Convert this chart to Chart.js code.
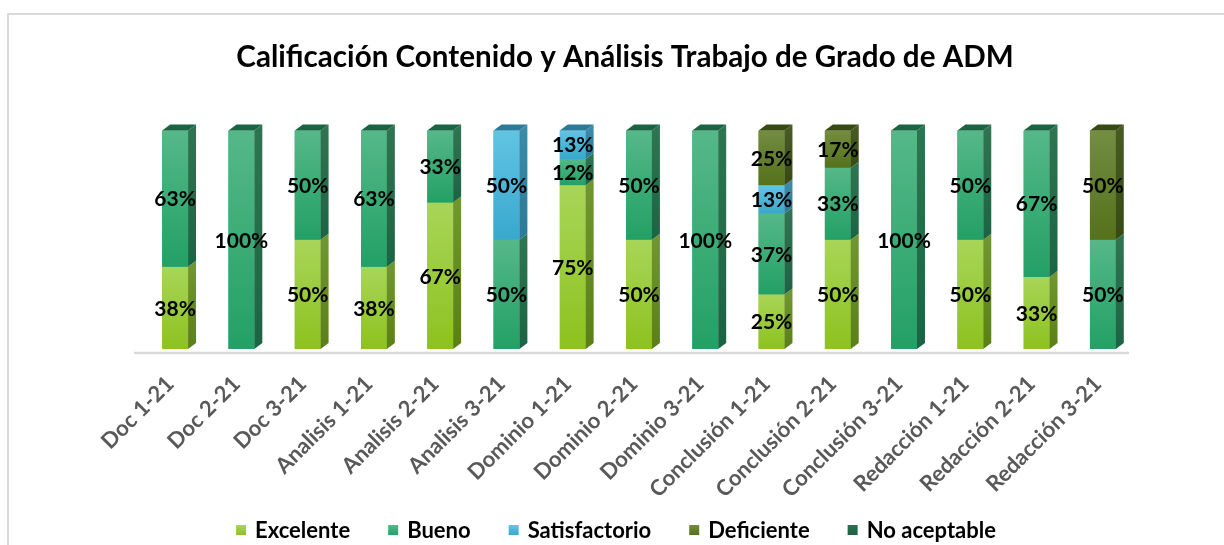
<!DOCTYPE html>
<html>
<head>
<meta charset="utf-8">
<script src="https://cdn.jsdelivr.net/npm/chart.js@4.4.0/dist/chart.umd.min.js"></script>
<style>
    html, body { margin: 0; padding: 0; background: #fff; }
    #wrap { position: relative; width: 1224px; height: 545px; overflow: hidden; }
    #frame { position: absolute; left: 7px; top: 13px; right: -10px; bottom: -10px;
             border-left: 2px solid #d9d9d9; border-top: 2px solid #d9d9d9; }
    canvas { position: absolute; left: 0; top: 0; }
</style>
</head>
<body>
<div id="wrap">
    <div id="frame"></div>
    <canvas id="chart" width="1224" height="545"></canvas>
</div>
<script>
const categories = ['Doc 1-21', 'Doc 2-21', 'Doc 3-21', 'Analisis 1-21', 'Analisis 2-21', 'Analisis 3-21',
    'Dominio 1-21', 'Dominio 2-21', 'Dominio 3-21', 'Conclusión 1-21', 'Conclusión 2-21', 'Conclusión 3-21',
    'Redacción 1-21', 'Redacción 2-21', 'Redacción 3-21'];

// percentages as printed on the bars
const excelente     = [38, 0, 50, 38, 67, 0, 75, 50, 0, 25, 50, 0, 50, 33, 0];
const bueno         = [63, 100, 50, 63, 33, 50, 12, 50, 100, 37, 33, 100, 50, 67, 50];
const satisfactorio = [0, 0, 0, 0, 0, 50, 13, 0, 0, 13, 0, 0, 0, 0, 0];
const deficiente    = [0, 0, 0, 0, 0, 0, 0, 0, 0, 25, 17, 0, 0, 0, 50];
const noAceptable   = [0, 0, 0, 0, 0, 0, 0, 0, 0, 0, 0, 0, 0, 0, 0];

// front top, front bottom, side top, side bottom
const shades = {
    'Excelente':     ['#a8d558', '#8dc21f', '#6f9630', '#5a7f17'],
    'Bueno':         ['#55b888', '#23a066', '#2f7450', '#1b6443'],
    'Satisfactorio': ['#62c4e3', '#38a8cd', '#3a8aa8', '#2d7a98'],
    'Deficiente':    ['#738d42', '#55711a', '#465a22', '#364a12'],
    'No aceptable':  ['#2a7350', '#1d6140', '#174d33', '#123f2a']
};

const series = [
    ['Excelente', excelente],
    ['Bueno', bueno],
    ['Satisfactorio', satisfactorio],
    ['Deficiente', deficiente],
    ['No aceptable', noAceptable]
];

// 100% stacked: each column scaled to its own total
const totals = categories.map((c, j) => series.reduce((s, d) => s + d[1][j], 0));

const datasets = series.map(([name, vals]) => ({
    label: name,
    raw: vals,
    data: vals.map((v, j) => v / totals[j] * 100),
    backgroundColor: shades[name][1],
    borderWidth: 0,
    categoryPercentage: 1,
    barPercentage: 0.39
}));

const DX = 8, DY = 6;

const bars3d = {
    id: 'bars3d',
    afterDatasetsDraw(chart) {
        const ctx = chart.ctx;
        const area = chart.chartArea;

        // floor line
        ctx.save();
        ctx.strokeStyle = '#d9d9d9';
        ctx.lineWidth = 2.5;
        ctx.beginPath();
        ctx.moveTo(area.left - 8, area.bottom + 4);
        ctx.lineTo(area.right - 7, area.bottom + 4);
        ctx.stroke();

        const tops = {};
        chart.data.datasets.forEach((ds, i) => {
            const meta = chart.getDatasetMeta(i);
            const sh = shades[ds.label];
            meta.data.forEach((bar, j) => {
                if (!ds.data[j]) return;
                const l = bar.x - bar.width / 2, r = bar.x + bar.width / 2;
                const t = Math.min(bar.y, bar.base), b = Math.max(bar.y, bar.base);

                let g = ctx.createLinearGradient(0, t, 0, b);
                g.addColorStop(0, sh[0]);
                g.addColorStop(1, sh[1]);
                ctx.fillStyle = g;
                ctx.fillRect(l, t, r - l, b - t);

                g = ctx.createLinearGradient(0, t, 0, b);
                g.addColorStop(0, sh[2]);
                g.addColorStop(1, sh[3]);
                ctx.fillStyle = g;
                ctx.beginPath();
                ctx.moveTo(r, t);
                ctx.lineTo(r + DX, t - DY);
                ctx.lineTo(r + DX, b - DY);
                ctx.lineTo(r, b);
                ctx.closePath();
                ctx.fill();

                tops[j] = {l, r, t, color: sh[3]};
            });
        });

        Object.values(tops).forEach(tp => {
            ctx.fillStyle = tp.color;
            ctx.beginPath();
            ctx.moveTo(tp.l, tp.t);
            ctx.lineTo(tp.l + DX, tp.t - DY);
            ctx.lineTo(tp.r + DX, tp.t - DY);
            ctx.lineTo(tp.r, tp.t);
            ctx.closePath();
            ctx.fill();
        });

        // value labels
        ctx.fillStyle = '#000';
        ctx.font = 'bold 21px Lato';
        ctx.textAlign = 'center';
        ctx.textBaseline = 'middle';
        chart.data.datasets.forEach((ds, i) => {
            const meta = chart.getDatasetMeta(i);
            meta.data.forEach((bar, j) => {
                if (!ds.raw[j]) return;
                ctx.fillText(ds.raw[j] + '%', bar.x, (bar.y + bar.base) / 2 + 1);
            });
        });
        ctx.restore();
    }
};

// legend row at the bottom (Chart.js legend ties item gap to its vertical padding)
const bottomLegend = {
    id: 'bottomLegend',
    afterDraw(chart) {
        const ctx = chart.ctx;
        const box = 10, gap = 9, spacing = 38, cy = 530, cx = 616;
        ctx.save();
        ctx.font = 'bold 22px Lato';
        ctx.textBaseline = 'middle';
        ctx.textAlign = 'left';
        const items = chart.data.datasets.map(ds => ({ text: ds.label, w: ctx.measureText(ds.label).width, sh: shades[ds.label] }));
        const total = items.reduce((s, it) => s + box + gap + it.w, 0) + spacing * (items.length - 1);
        let x = cx - total / 2;
        items.forEach(it => {
            const g = ctx.createLinearGradient(0, cy - box / 2, 0, cy + box / 2);
            g.addColorStop(0, it.sh[0]);
            g.addColorStop(1, it.sh[1]);
            ctx.fillStyle = g;
            ctx.fillRect(x, cy - box / 2, box, box);
            ctx.fillStyle = '#000';
            ctx.fillText(it.text, x + box + gap, cy + 1);
            x += box + gap + it.w + spacing;
        });
        ctx.restore();
    }
};

new Chart(document.getElementById('chart'), {
    type: 'bar',
    data: { labels: categories, datasets: datasets },
    plugins: [bars3d, bottomLegend],
    options: {
        responsive: false,
        animation: false,
        events: [],
        layout: { padding: { left: 30, right: 4, top: 0, bottom: 0 } },
        scales: {
            x: {
                stacked: true,
                grid: { display: false, drawTicks: false },
                border: { display: false },
                ticks: {
                    autoSkip: false,
                    minRotation: 45,
                    maxRotation: 45,
                    padding: 22,
                    labelOffset: -5,
                    color: '#595959',
                    font: { family: 'Lato', weight: 'bold', size: 22 }
                },
                afterFit(scale) { scale.height = 196; }
            },
            y: {
                stacked: true,
                min: 0,
                max: 100,
                grid: { display: false },
                border: { display: false },
                ticks: { display: false },
                afterFit(scale) { scale.width = 112; }
            },
            y2: {
                position: 'right',
                min: 0,
                max: 100,
                grid: { display: false },
                border: { display: false },
                ticks: { display: false },
                afterFit(scale) { scale.width = 84; }
            }
        },
        plugins: {
            tooltip: { enabled: false },
            legend: { display: false },
            title: {
                display: true,
                text: 'Calificación Contenido y Análisis Trabajo de Grado de ADM',
                color: '#000',
                font: { family: 'Lato', weight: 'bold', size: 29.6 },
                padding: { top: 40, bottom: 55 }
            }
        }
    }
});
</script>
</body>
</html>
